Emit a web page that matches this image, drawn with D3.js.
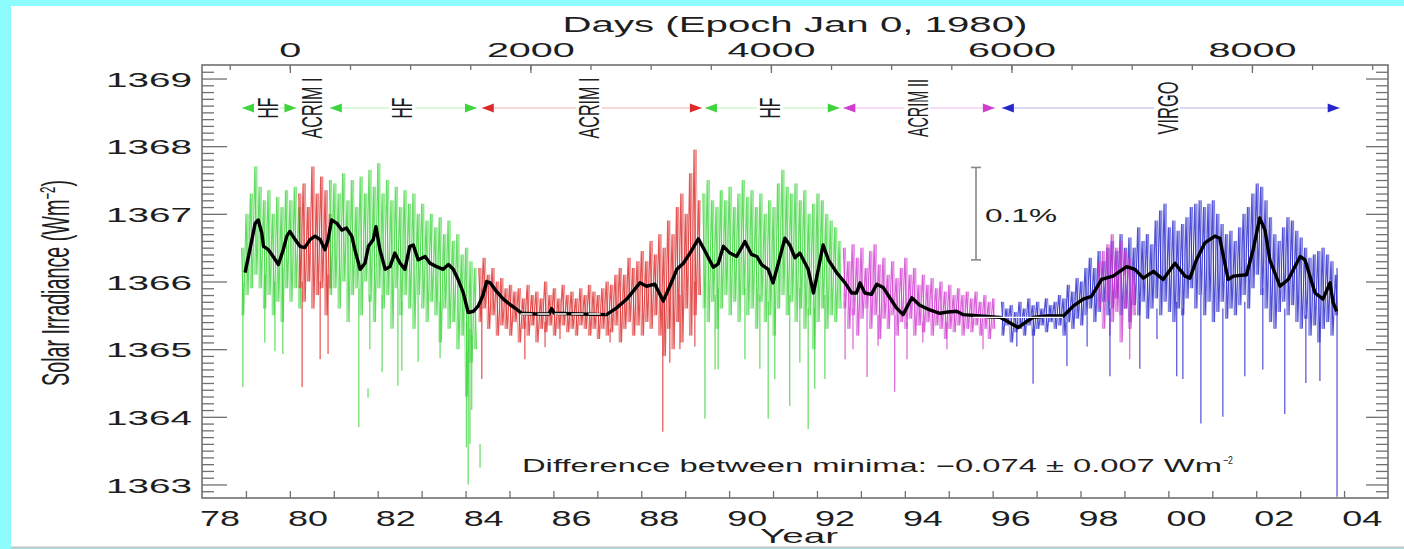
<!DOCTYPE html>
<html>
<head>
<meta charset="utf-8">
<script src="https://cdn.jsdelivr.net/npm/d3@7"></script>
<style>
  html, body { margin: 0; padding: 0; background: #8cfcfc; }
  svg { display: block; font-family: "Liberation Sans", Arial, sans-serif; }
</style>
</head>
<body>
<svg id="chart"></svg>
<script>
// ---- data ----
const step = 0.1; // sample spacing of the envelope readings (years)

// HF (Nimbus-7) first stretch, from 1978.9
const hf1Hi = [1366.5, 1367.0, 1367.3, 1367.7, 1367.4, 1367.2, 1367.35, 1367.0, 1367.25, 1367.1, 1367.35, 1367.2, 1367.4, 1367.1];
const hf1Lo = [1365.5, 1365.8, 1365.9, 1366.1, 1365.9, 1365.6, 1365.8, 1365.5, 1365.7, 1365.4, 1365.9, 1365.7, 1365.9, 1365.6];
// ACRIM I early piece, from 1980.2
const acrim1aHi = [1367.3, 1367.45, 1367.1, 1367.7, 1367.3, 1367.55, 1367.35, 1367.0];
const acrim1aLo = [1365.9, 1365.7, 1366.0, 1365.6, 1365.8, 1365.9, 1365.5, 1365.9];
// HF second stretch, from 1980.9
const hf2Hi = [1367.5, 1367.45, 1367.3, 1367.6, 1367.2, 1367.5, 1367.1, 1367.55, 1367.3, 1367.65,
               1367.4, 1367.75, 1367.3, 1367.5, 1367.2, 1367.4, 1367.1, 1367.35, 1367.15, 1367.3,
               1367.0, 1367.15, 1366.9, 1367.0, 1366.8, 1366.95, 1366.7, 1366.9, 1366.6, 1366.7,
               1366.4, 1366.5, 1366.3, 1366.2];
const hf2Lo = [1365.8, 1365.9, 1365.6, 1366.0, 1365.4, 1365.8, 1365.9, 1365.5, 1366.0, 1365.7,
               1365.4, 1365.9, 1365.6, 1365.8, 1365.3, 1365.9, 1365.5, 1365.8, 1365.6, 1365.3,
               1365.8, 1365.6, 1365.4, 1365.7, 1365.5, 1365.1, 1365.6, 1365.3, 1365.4, 1365.0,
               1365.2, 1364.3, 1364.8, 1365.0];
// ACRIM I main stretch, from 1984.3
const acrim1bHi = [1366.2, 1366.35, 1366.1, 1366.2, 1366.0, 1366.05, 1365.9, 1365.95, 1365.85, 1365.9,
                   1365.75, 1365.95, 1365.8, 1365.85, 1365.75, 1366.0, 1365.8, 1365.9, 1365.75, 1365.95,
                   1365.8, 1365.85, 1365.75, 1365.9, 1365.8, 1365.95, 1365.85, 1365.8, 1365.9, 1366.0,
                   1365.95, 1366.1, 1366.2, 1366.1, 1366.35, 1366.2, 1366.3, 1366.45, 1366.3, 1366.6,
                   1366.4, 1366.7, 1366.5, 1366.9, 1366.7, 1367.1, 1367.3, 1367.0, 1367.6, 1367.95,
                   1367.2];
const acrim1bLo = [1365.4, 1365.6, 1365.3, 1365.5, 1365.2, 1365.35, 1365.3, 1365.2, 1365.4, 1365.1,
                   1365.3, 1365.2, 1365.35, 1365.1, 1365.3, 1365.25, 1365.35, 1365.2, 1365.3, 1365.35,
                   1365.25, 1365.3, 1365.2, 1365.35, 1365.3, 1365.2, 1365.3, 1365.15, 1365.3, 1365.2,
                   1365.25, 1365.35, 1365.1, 1365.3, 1365.4, 1365.2, 1365.35, 1365.2, 1365.4, 1365.3,
                   1365.5, 1365.2, 1364.9, 1365.3, 1365.0, 1365.4, 1365.1, 1365.6, 1365.2, 1365.5,
                   1365.8];
// HF third stretch, from 1989.4
const hf3Hi = [1367.3, 1367.5, 1367.2, 1367.1, 1367.35, 1367.2, 1367.4, 1367.1, 1367.3, 1367.5,
               1367.25, 1367.35, 1367.1, 1367.3, 1367.0, 1367.2, 1367.1, 1367.45, 1367.65, 1367.4,
               1367.3, 1367.45, 1367.2, 1367.35, 1367.0, 1367.15, 1367.3, 1367.2, 1367.0, 1366.9,
               1366.8, 1366.6];
const hf3Lo = [1365.6, 1365.4, 1365.7, 1365.3, 1365.6, 1365.8, 1365.5, 1365.7, 1365.4, 1365.8,
               1365.5, 1365.6, 1365.3, 1365.7, 1365.4, 1365.5, 1365.2, 1365.6, 1365.8, 1365.5,
               1365.7, 1365.4, 1365.6, 1365.3, 1365.5, 1365.0, 1365.4, 1365.6, 1365.3, 1365.5,
               1365.4, 1365.6];
// ACRIM II, from 1992.6
const acrim2Hi = [1366.5, 1366.3, 1366.55, 1366.35, 1366.5, 1366.2, 1366.45, 1366.55, 1366.25, 1366.35,
                  1366.1, 1366.3, 1366.05, 1366.2, 1366.35, 1366.1, 1366.2, 1365.95, 1366.1, 1365.95,
                  1366.05, 1365.9, 1366.0, 1365.85, 1365.95, 1365.8, 1365.9, 1365.8, 1365.85, 1365.75,
                  1365.85, 1365.7, 1365.8, 1365.7, 1365.75];
const acrim2Lo = [1365.6, 1365.3, 1365.5, 1365.2, 1365.45, 1365.6, 1365.3, 1365.5, 1365.15, 1365.45,
                  1365.3, 1365.5, 1365.2, 1365.4, 1365.3, 1365.45, 1365.2, 1365.35, 1365.25, 1365.4,
                  1365.2, 1365.35, 1365.3, 1365.15, 1365.3, 1365.25, 1365.35, 1365.2, 1365.3, 1365.25,
                  1365.35, 1365.2, 1365.3, 1365.15, 1365.3];
// ACRIM II piece overlapping VIRGO, from 1998.4
const acrim2bHi = [1366.3, 1366.45, 1366.55, 1366.7, 1366.5, 1366.6, 1366.45, 1366.35, 1366.2];
const acrim2bLo = [1365.6, 1365.3, 1365.7, 1365.4, 1365.55, 1365.1, 1365.6, 1365.3, 1365.5];
// VIRGO, from 1996.2
const virgoHi = [1365.7, 1365.6, 1365.65, 1365.55, 1365.7, 1365.6, 1365.75, 1365.65, 1365.7, 1365.6,
                 1365.75, 1365.65, 1365.7, 1365.8, 1365.75, 1365.95, 1365.85, 1366.05, 1366.0, 1366.2,
                 1366.35, 1366.2, 1366.45, 1366.3, 1366.5, 1366.6, 1366.45, 1366.7, 1366.5, 1366.65,
                 1366.5, 1366.8, 1366.6, 1366.7, 1366.55, 1366.9, 1367.05, 1367.15, 1366.8, 1366.9,
                 1366.75, 1366.85, 1366.95, 1367.1, 1367.15, 1367.2, 1367.1, 1367.15, 1367.2, 1367.0,
                 1366.85, 1366.7, 1366.75, 1366.6, 1366.8, 1367.0, 1367.1, 1367.3, 1367.45, 1367.4,
                 1367.2, 1366.95, 1366.7, 1366.6, 1366.8, 1366.95, 1366.9, 1366.75, 1366.65, 1366.5,
                 1366.35, 1366.4, 1366.45, 1366.5, 1366.4, 1366.3, 1366.1];
const virgoLo = [1365.2, 1365.35, 1365.1, 1365.25, 1365.3, 1365.2, 1365.35, 1365.2, 1365.3, 1365.35,
                 1365.25, 1365.4, 1365.3, 1365.35, 1365.2, 1365.4, 1365.3, 1365.45, 1365.35, 1365.5,
                 1365.6, 1365.4, 1365.55, 1365.7, 1365.5, 1365.6, 1365.75, 1365.5, 1365.6, 1365.4,
                 1365.65, 1365.5, 1365.7, 1365.45, 1365.6, 1365.75, 1365.5, 1365.7, 1365.55, 1365.4,
                 1365.6, 1365.5, 1365.75, 1365.9, 1365.6, 1365.8, 1365.5, 1365.7, 1365.4, 1365.55,
                 1365.7, 1365.45, 1365.6, 1365.5, 1365.65, 1365.8, 1365.6, 1365.9, 1366.1, 1365.8,
                 1365.6, 1365.4, 1365.3, 1365.55, 1365.7, 1365.5, 1365.65, 1365.4, 1365.3, 1365.45,
                 1365.2, 1365.35, 1365.1, 1365.3, 1365.4, 1365.2, 1365.5];

// isolated excursions: [year, top, bottom]
const hfSpikes = [
  [1978.93, 1366.0, 1364.44], [1979.43, 1366.1, 1365.1], [1979.66, 1366.0, 1364.97], [1979.84, 1366.2, 1364.93],
  [1981.57, 1365.9, 1363.85], [1981.78, 1364.42, 1364.28], [1981.82, 1365.8, 1365.0], [1982.10, 1365.8, 1364.66],
  [1982.46, 1365.9, 1364.46], [1982.55, 1365.7, 1364.68], [1982.92, 1365.8, 1364.81], [1983.42, 1365.7, 1364.87],
  [1984.02, 1365.4, 1363.55], [1984.06, 1365.5, 1363.0], [1984.10, 1365.3, 1363.6], [1984.14, 1365.2, 1364.1],
  [1984.33, 1363.6, 1363.25],
  [1989.45, 1366.0, 1363.97], [1989.68, 1365.8, 1364.7], [1989.75, 1365.9, 1364.7], [1990.36, 1365.9, 1364.85],
  [1990.70, 1365.8, 1364.71], [1990.89, 1365.7, 1363.97], [1991.04, 1365.6, 1364.56], [1991.38, 1365.8, 1364.16],
  [1991.61, 1365.9, 1364.8], [1991.80, 1365.6, 1363.82], [1991.95, 1365.6, 1364.41], [1992.18, 1365.8, 1364.56]
];
const acrim1Spikes = [
  [1980.28, 1366.0, 1364.44], [1980.69, 1366.0, 1364.85], [1980.87, 1366.1, 1364.93], [1984.37, 1365.9, 1364.56],
  [1985.35, 1365.4, 1364.85], [1985.81, 1365.4, 1365.03], [1986.15, 1365.3, 1365.15], [1987.29, 1365.3, 1365.1],
  [1988.49, 1365.8, 1363.78], [1988.65, 1365.6, 1364.8], [1988.88, 1365.8, 1365.0], [1989.22, 1366.0, 1365.04]
];
const acrim2Spikes = [
  [1992.64, 1365.7, 1364.85], [1992.82, 1365.6, 1365.0], [1993.14, 1365.6, 1364.59], [1993.39, 1365.5, 1365.05],
  [1993.77, 1365.5, 1364.37], [1994.05, 1365.4, 1364.85], [1994.41, 1365.4, 1365.1], [1994.96, 1365.4, 1365.0],
  [1995.78, 1365.3, 1365.0], [1998.67, 1365.6, 1365.2], [1999.12, 1365.6, 1364.85]
];
const virgoSpikes = [
  [1996.55, 1365.3, 1365.04], [1996.92, 1365.3, 1364.49], [1997.69, 1365.4, 1364.75], [1998.15, 1365.5, 1365.04],
  [1998.67, 1365.6, 1364.6], [1999.35, 1365.7, 1364.71], [1999.74, 1365.6, 1365.15], [2000.19, 1365.7, 1364.6],
  [2000.33, 1365.6, 1364.56], [2000.74, 1365.8, 1363.9], [2001.24, 1365.6, 1364.0], [2001.74, 1365.7, 1364.6],
  [2002.15, 1365.9, 1364.7], [2002.65, 1365.6, 1364.04], [2003.13, 1365.5, 1364.5], [2003.45, 1365.4, 1364.53],
  [2003.84, 1366.2, 1362.82]
];

// 81-day running mean (black curve)
const smoothYears = [1978.98, 1979.09, 1979.21, 1979.28, 1979.36, 1979.40, 1979.51, 1979.62, 1979.74, 1979.85,
  1979.93, 1980.00, 1980.12, 1980.23, 1980.34, 1980.46, 1980.57, 1980.69, 1980.80, 1980.87,
  1980.95, 1981.07, 1981.18, 1981.29, 1981.41, 1981.48, 1981.60, 1981.71, 1981.79, 1981.90,
  1981.96, 1982.05, 1982.17, 1982.28, 1982.39, 1982.51, 1982.62, 1982.73, 1982.81, 1982.92,
  1983.08, 1983.19, 1983.34, 1983.49, 1983.61, 1983.72, 1983.83, 1983.95, 1984.06, 1984.18,
  1984.29, 1984.40, 1984.48, 1984.56, 1984.71, 1984.86, 1985.01, 1985.16, 1985.28, 1985.60,
  1985.90, 1985.96, 1986.02, 1986.60, 1987.21, 1987.44, 1987.67, 1987.97, 1988.12, 1988.31,
  1988.50, 1988.65, 1988.81, 1988.96, 1989.11, 1989.30, 1989.45, 1989.64, 1989.75, 1989.87,
  1990.02, 1990.17, 1990.36, 1990.51, 1990.63, 1990.74, 1990.89, 1991.00, 1991.12, 1991.27,
  1991.38, 1991.50, 1991.61, 1991.80, 1991.92, 1992.03, 1992.14, 1992.26, 1992.45, 1992.64,
  1992.79, 1992.90, 1992.98, 1993.09, 1993.24, 1993.36, 1993.51, 1993.66, 1993.81, 1993.96,
  1994.16, 1994.34, 1994.57, 1994.80, 1994.99, 1995.18, 1995.33, 1995.56, 1995.94, 1996.17,
  1996.39, 1996.58, 1996.73, 1996.92, 1997.23, 1997.61, 1997.84, 1998.06, 1998.25, 1998.48,
  1998.74, 1999.05, 1999.24, 1999.43, 1999.66, 1999.88, 2000.15, 2000.38, 2000.49, 2000.64,
  2000.83, 2001.06, 2001.17, 2001.36, 2001.48, 2001.78, 2001.93, 2002.08, 2002.20, 2002.31,
  2002.54, 2002.73, 2003.00, 2003.11, 2003.34, 2003.52, 2003.68, 2003.75, 2003.83];
const smoothValues = [1366.13, 1366.47, 1366.86, 1366.91, 1366.72, 1366.52, 1366.47, 1366.37, 1366.25, 1366.47,
  1366.67, 1366.74, 1366.62, 1366.52, 1366.50, 1366.62, 1366.67, 1366.62, 1366.47, 1366.62,
  1366.91, 1366.86, 1366.76, 1366.79, 1366.67, 1366.47, 1366.18, 1366.27, 1366.52, 1366.62,
  1366.81, 1366.47, 1366.18, 1366.22, 1366.42, 1366.27, 1366.18, 1366.52, 1366.54, 1366.32,
  1366.37, 1366.27, 1366.22, 1366.18, 1366.25, 1366.18, 1366.03, 1365.83, 1365.54, 1365.56,
  1365.64, 1365.80, 1366.00, 1365.98, 1365.85, 1365.74, 1365.66, 1365.59, 1365.53, 1365.52,
  1365.52, 1365.60, 1365.53, 1365.52, 1365.51, 1365.61, 1365.74, 1365.98, 1365.93, 1365.96,
  1365.71, 1365.93, 1366.18, 1366.27, 1366.42, 1366.63, 1366.45, 1366.21, 1366.26, 1366.52,
  1366.42, 1366.37, 1366.59, 1366.40, 1366.37, 1366.25, 1366.18, 1365.98, 1366.27, 1366.64,
  1366.54, 1366.35, 1366.42, 1366.18, 1365.83, 1366.18, 1366.54, 1366.32, 1366.13, 1365.98,
  1365.83, 1365.83, 1365.98, 1365.83, 1365.81, 1365.96, 1365.91, 1365.76, 1365.61, 1365.51,
  1365.76, 1365.65, 1365.58, 1365.53, 1365.55, 1365.56, 1365.51, 1365.50, 1365.48, 1365.47,
  1365.39, 1365.32, 1365.39, 1365.47, 1365.49, 1365.49, 1365.64, 1365.74, 1365.78, 1366.03,
  1366.08, 1366.22, 1366.18, 1366.05, 1366.15, 1366.03, 1366.27, 1366.08, 1366.05, 1366.32,
  1366.57, 1366.67, 1366.64, 1366.03, 1366.08, 1366.10, 1366.47, 1366.94, 1366.76, 1366.32,
  1365.93, 1366.03, 1366.37, 1366.32, 1365.83, 1365.74, 1365.98, 1365.69, 1365.56];

// solar-minimum reference levels: [from, to, level]
const minimaLevels = [[1985.25, 1987.2, 1365.52], [1995.55, 1997.6, 1365.47]];

// instrument periods (arrow row)
const instNames = ["HF", "ACRIM I", "HF", "ACRIM I", "HF", "ACRIM II", "VIRGO"];
const instFrom  = [1978.91, null, 1980.91, 1984.37, 1989.45, 1992.60, 1996.21];
const instTo    = [1980.15, null, 1984.26, 1989.38, 1992.52, 1996.05, 2003.90];
const instLabelAt = [1979.48, 1980.49, 1982.55, 1986.81, 1990.93, 1994.28, 1999.97];

// axes
const yMajor = [1363, 1364, 1365, 1366, 1367, 1368, 1369];
const yearTickYears = d3.range(1979, 2005);
const yearLabelYears = [1978, 1980, 1982, 1984, 1986, 1988, 1990, 1992, 1994, 1996, 1998, 2000, 2002, 2004];
const yearLabels = ["78", "80", "82", "84", "86", "88", "90", "92", "94", "96", "98", "00", "02", "04"];
const dayMajor = [0, 2000, 4000, 6000, 8000];

// ---- layout ----
const W = 1404, H = 549;
const plot = { left: 202, right: 1388, top: 65, bottom: 498 };
const colors = { "HF": "#3ed43e", "ACRIM I": "#dd2a2a", "ACRIM II": "#cf3ccf", "VIRGO": "#2626cc" };
const labelLen = { "HF": 21, "ACRIM I": 61, "ACRIM II": 58, "VIRGO": 53 };
const inkColor = "#1e1e1e", axisColor = "#707070";

const x = d3.scaleLinear().domain([1978, 2005]).range([plot.left, plot.right]);
const xDays = d3.scaleLinear().domain([(1978 - 1980) * 365.25, (2005 - 1980) * 365.25]).range([plot.left, plot.right]);
const y = d3.scaleLinear().domain([1362.8, 1369.2]).range([plot.bottom, plot.top]);

const svg = d3.select("#chart").attr("width", W).attr("height", H);

function squeeze(sel, len) {
    sel.attr("textLength", len).attr("lengthAdjust", "spacingAndGlyphs");
}

// background panel
svg.append("rect").attr("width", W).attr("height", H).attr("fill", "#8cfcfc");
svg.append("rect").attr("x", 11).attr("y", 6).attr("width", W - 11).attr("height", 541).attr("fill", "#fff");
svg.append("line").attr("x1", 11).attr("x2", W).attr("y1", 547.5).attr("y2", 547.5)
    .attr("stroke", "#c4c4c4").attr("stroke-width", 2);

svg.append("clipPath").attr("id", "plotclip")
  .append("rect")
    .attr("x", plot.left).attr("y", plot.top)
    .attr("width", plot.right - plot.left).attr("height", plot.bottom - plot.top);

const dataG = svg.append("g").attr("clip-path", "url(#plotclip)");

// daily values: hi/lo zigzag per instrument stretch, plus the lo->hi range of each sample
const segments = [
    { inst: "HF", start: 1978.9, hi: hf1Hi, lo: hf1Lo },
    { inst: "ACRIM I", start: 1980.2, hi: acrim1aHi, lo: acrim1aLo },
    { inst: "HF", start: 1980.9, hi: hf2Hi, lo: hf2Lo },
    { inst: "ACRIM I", start: 1984.3, hi: acrim1bHi, lo: acrim1bLo },
    { inst: "HF", start: 1989.4, hi: hf3Hi, lo: hf3Lo },
    { inst: "ACRIM II", start: 1992.6, hi: acrim2Hi, lo: acrim2Lo },
    { inst: "VIRGO", start: 1996.2, hi: virgoHi, lo: virgoLo },
    { inst: "ACRIM II", start: 1998.4, hi: acrim2bHi, lo: acrim2bLo }
];

const zigzag = d3.line().x(d => x(d[0])).y(d => y(d[1]));

const segG = dataG.selectAll("g.seg")
    .data(segments)
    .enter().append("g")
    .attr("class", "seg")
    .attr("stroke", s => colors[s.inst])
    .attr("fill", "none");

segG.append("path")
    .attr("d", s => zigzag(s.hi.flatMap((h, i) => [
        [s.start + i * step, h],
        [s.start + i * step + step / 2, s.lo[i]]
    ])))
    .attr("stroke-width", 1.1)
    .attr("stroke-opacity", 0.8);

segG.append("path")
    .attr("d", s => zigzag(s.hi.flatMap((h, i) => [
        [s.start + i * step, s.lo[i]],
        [s.start + i * step + step / 2, h]
    ])))
    .attr("stroke-width", 0.9)
    .attr("stroke-opacity", 0.45);

segG.selectAll("line")
    .data(s => s.hi.map((h, i) => [s.start + i * step + step / 4, h, s.lo[i]]))
    .enter().append("line")
    .attr("x1", d => x(d[0])).attr("x2", d => x(d[0]))
    .attr("y1", d => y(d[1])).attr("y2", d => y(d[2]))
    .attr("stroke-width", 1)
    .attr("stroke-opacity", 0.55);

const spikeSets = [
    { inst: "HF", pts: hfSpikes },
    { inst: "ACRIM I", pts: acrim1Spikes },
    { inst: "ACRIM II", pts: acrim2Spikes },
    { inst: "VIRGO", pts: virgoSpikes }
];
spikeSets.forEach(set => {
    dataG.append("g").selectAll("line")
        .data(set.pts)
        .enter().append("line")
        .attr("x1", d => x(d[0])).attr("x2", d => x(d[0]))
        .attr("y1", d => y(d[1])).attr("y2", d => y(d[2]))
        .attr("stroke", colors[set.inst])
        .attr("stroke-width", 1.3)
        .attr("stroke-opacity", 0.75);
});

// running mean
const smoothPts = smoothYears.map((t, i) => [t, smoothValues[i]]);
dataG.append("path")
    .attr("d", d3.line().x(d => x(d[0])).y(d => y(d[1]))(smoothPts))
    .attr("fill", "none")
    .attr("stroke", "#000")
    .attr("stroke-width", 3.4)
    .attr("stroke-linejoin", "round");

// minimum levels
dataG.selectAll("line.minlevel")
    .data(minimaLevels)
    .enter().append("line")
    .attr("class", "minlevel")
    .attr("x1", d => x(d[0])).attr("x2", d => x(d[1]))
    .attr("y1", d => y(d[2])).attr("y2", d => y(d[2]))
    .attr("stroke", "#fff")
    .attr("stroke-width", 1.4)
    .attr("stroke-dasharray", (d, i) => i === 0 ? "12,5" : null);

// 0.1 % scale bar
const barLow = 1366.32, barHigh = barLow + 1366 * 0.001;
const barX = 976;
const bar = svg.append("g").attr("stroke", "#8a8a8a").attr("stroke-width", 1.6);
bar.append("line").attr("x1", barX).attr("x2", barX).attr("y1", y(barLow)).attr("y2", y(barHigh));
bar.append("line").attr("x1", barX - 5).attr("x2", barX + 5).attr("y1", y(barLow)).attr("y2", y(barLow));
bar.append("line").attr("x1", barX - 5).attr("x2", barX + 5).attr("y1", y(barHigh)).attr("y2", y(barHigh));
svg.append("text")
    .attr("x", 985).attr("y", 222)
    .attr("font-size", 18).attr("fill", inkColor)
    .text("0.1%")
    .call(squeeze, 72);

// instrument arrows
const arrowY = 108;
const instG = svg.append("g");
instNames.forEach((name, i) => {
    const c = colors[name];
    const g = instG.append("g");
    if (instFrom[i] !== null) {
        const x0 = x(instFrom[i]), x1 = x(instTo[i]);
        g.append("line")
            .attr("x1", x0).attr("x2", x1).attr("y1", arrowY).attr("y2", arrowY)
            .attr("stroke", c).attr("stroke-opacity", 0.35).attr("stroke-width", 1.2);
        g.append("path")
            .attr("d", `M${x0},${arrowY}L${x0 + 12},${arrowY - 4.5}L${x0 + 12},${arrowY + 4.5}Z`)
            .attr("fill", c);
        g.append("path")
            .attr("d", `M${x1},${arrowY}L${x1 - 12},${arrowY - 4.5}L${x1 - 12},${arrowY + 4.5}Z`)
            .attr("fill", c);
    }
    const len = labelLen[name];
    const cx = x(instLabelAt[i]);
    g.append("rect")
        .attr("x", cx - 13).attr("y", arrowY - len / 2 - 7)
        .attr("width", 26).attr("height", len + 14)
        .attr("fill", "#fff");
    g.append("text")
        .attr("transform", `translate(${cx + 10.5},${arrowY}) rotate(-90)`)
        .attr("text-anchor", "middle")
        .attr("font-size", 29)
        .attr("fill", inkColor)
        .text(name)
        .call(squeeze, len);
});

// axes
function styleAxis(g) {
    g.select(".domain").remove();
    g.selectAll(".tick line").attr("stroke", axisColor).attr("stroke-width", 1.3);
    g.selectAll(".tick text").attr("fill", inkColor);
}
const yMinor = d3.range(1362.9, 1369.15, 0.1).filter(v => Math.abs(v - Math.round(v)) > 0.01);

svg.append("g").attr("transform", `translate(${plot.left},0)`)
    .call(d3.axisLeft(y).tickValues(yMinor).tickSize(-12).tickFormat(""))
    .call(styleAxis);
svg.append("g").attr("transform", `translate(${plot.left},0)`)
    .call(d3.axisLeft(y).tickValues(yMajor).tickSize(-25).tickPadding(10).tickFormat(d3.format("d")))
    .call(styleAxis)
    .call(g => g.selectAll(".tick text").attr("font-size", 21).attr("dy", "0.36em")
        .attr("font-family", "Liberation Sans, Arial, sans-serif").call(squeeze, 86));

svg.append("g").attr("transform", `translate(${plot.right},0)`)
    .call(d3.axisRight(y).tickValues(yMinor).tickSize(-12).tickFormat(""))
    .call(styleAxis);
svg.append("g").attr("transform", `translate(${plot.right},0)`)
    .call(d3.axisRight(y).tickValues(yMajor).tickSize(-22).tickFormat(""))
    .call(styleAxis);

svg.append("g").attr("transform", `translate(0,${plot.bottom})`)
    .call(d3.axisBottom(x).tickValues(yearTickYears).tickSize(-7).tickFormat(""))
    .call(styleAxis);
svg.append("g").attr("transform", `translate(0,${plot.bottom})`)
    .call(d3.axisBottom(x)
        .tickValues(yearLabelYears.map(v => v + 0.4))
        .tickSize(0).tickPadding(12)
        .tickFormat((d, i) => yearLabels[i]))
    .call(styleAxis)
    .call(g => g.selectAll(".tick text").attr("font-size", 22)
        .attr("font-family", "Liberation Sans, Arial, sans-serif").call(squeeze, 40));

svg.append("g").attr("transform", `translate(0,${plot.top})`)
    .call(d3.axisTop(xDays).tickValues(d3.range(-500, 9001, 500)).tickSize(-5).tickFormat(""))
    .call(styleAxis);
svg.append("g").attr("transform", `translate(0,${plot.top})`)
    .call(d3.axisTop(xDays).tickValues(dayMajor).tickSize(-8).tickPadding(8).tickFormat(d3.format("d")))
    .call(styleAxis)
    .call(g => g.selectAll(".tick text").attr("font-size", 20)
        .attr("font-family", "Liberation Sans, Arial, sans-serif")
        .each(function(d) { d3.select(this).call(squeeze, 22 * String(d).length); }));

// frame
svg.append("rect")
    .attr("x", plot.left).attr("y", plot.top)
    .attr("width", plot.right - plot.left).attr("height", plot.bottom - plot.top)
    .attr("fill", "none").attr("stroke", axisColor).attr("stroke-width", 1.6);

// titles
svg.append("text")
    .attr("x", 795).attr("y", 32)
    .attr("text-anchor", "middle").attr("font-size", 22).attr("fill", inkColor)
    .text("Days (Epoch Jan 0, 1980)")
    .call(squeeze, 465);

svg.append("text")
    .attr("x", 799).attr("y", 543)
    .attr("text-anchor", "middle").attr("font-size", 21).attr("fill", inkColor)
    .text("Year")
    .call(squeeze, 78);

const yTitle = svg.append("text")
    .attr("transform", "translate(69,283) rotate(-90)")
    .attr("text-anchor", "middle").attr("font-size", 38).attr("fill", inkColor);
yTitle.append("tspan").text("Solar Irradiance (Wm");
yTitle.append("tspan").attr("font-size", 22).attr("dy", -14).text("\u22122");
yTitle.append("tspan").attr("dy", 14).text(")");
yTitle.call(squeeze, 206);

svg.append("text")
    .attr("x", 522).attr("y", 472)
    .attr("font-size", 18).attr("fill", inkColor)
    .text("Difference between minima: \u22120.074 \u00b1 0.007 Wm")
    .call(squeeze, 700);
svg.append("text")
    .attr("x", 1223).attr("y", 464)
    .attr("font-size", 11).attr("fill", inkColor)
    .text("\u22122")
    .call(squeeze, 10);
</script>
</body>
</html>
